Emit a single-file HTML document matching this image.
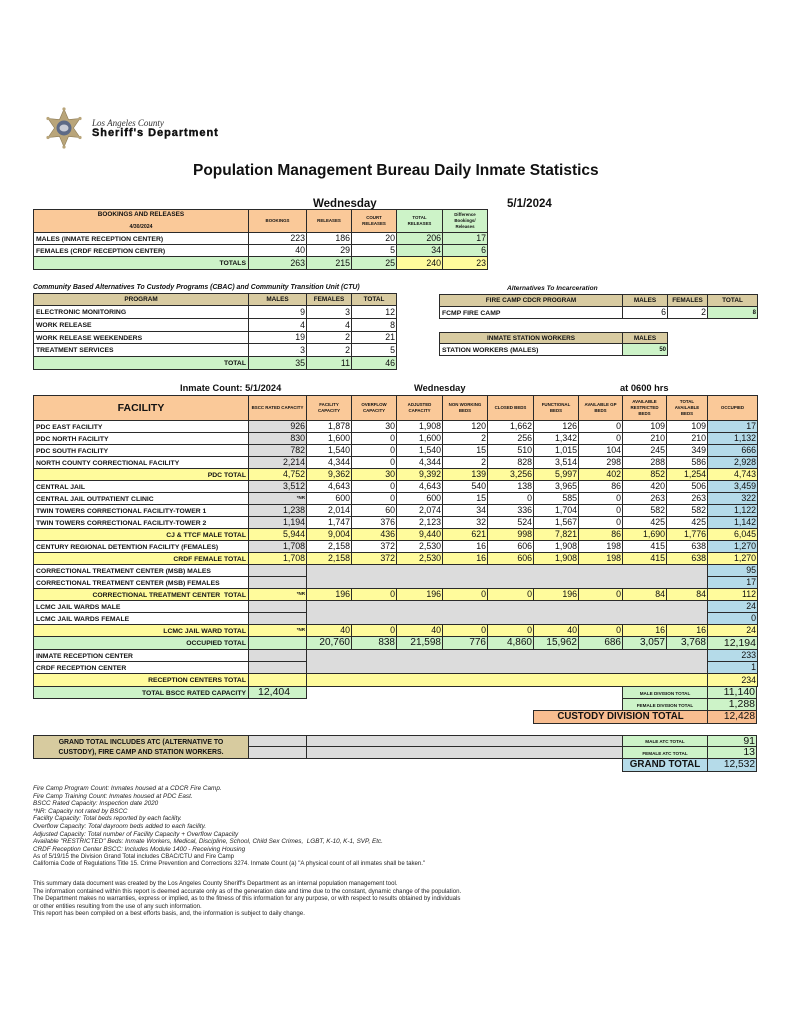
<!DOCTYPE html>
<html><head><meta charset="utf-8"><style>
*{box-sizing:border-box;margin:0;padding:0}
body{width:791px;height:1024px;background:#fff;position:relative;overflow:hidden;font-family:"Liberation Sans",Arial,sans-serif;color:#111}
.a{position:absolute;white-space:nowrap;line-height:1}
table{position:absolute;border-collapse:collapse;table-layout:fixed}
td{border:1px solid #2a2a2a;padding:0 1px;overflow:hidden;white-space:nowrap;line-height:1;font-size:8.8px;text-align:right;vertical-align:middle}
td.l{text-align:left;font-size:6.8px;font-weight:bold;padding-left:2px;padding-top:3px}
td.t{font-size:6.8px;font-weight:bold;padding-right:2px;padding-top:3px}
td.h{text-align:center;font-size:4.4px;font-weight:bold;white-space:normal;line-height:1.3}
td.c{text-align:center;font-size:6.4px;font-weight:bold;padding-top:2px}
.p{background:#fac999}.k{background:#d8cba1}.g{background:#cdf3c8}.y{background:#fffb9c}.s{background:#dcdcdc}.b{background:#b5dbe9}.o{background:#f8bd90}
tr.y td{background:#fffb9c}
tr.gr td{background:#cdf3c8;font-size:10px}
.box{position:absolute;border:1px solid #2a2a2a;display:flex;align-items:center;white-space:nowrap;line-height:1}
.sm{padding-top:3px}
.fn{position:absolute;left:33px;font-size:6.1px;line-height:7.4px;white-space:nowrap;color:#222}
.fn i{font-style:italic;font-size:6.35px}
</style></head><body>

<svg class="a" style="left:40px;top:105px" width="50" height="50" viewBox="40 105 50 50">
<polygon points="64,109 68.5,119.5 80,118.5 73.5,128 80,137.5 68.5,136.5 64,147 59.5,136.5 48,137.5 54.5,128 48,118.5 59.5,119.5" fill="#b9a57a" stroke="#8c7a55" stroke-width="0.6"/>
<circle cx="64" cy="109" r="1.6" fill="#b9a57a"/><circle cx="80" cy="118.5" r="1.6" fill="#b9a57a"/><circle cx="80" cy="137.5" r="1.6" fill="#b9a57a"/><circle cx="64" cy="147" r="1.6" fill="#b9a57a"/><circle cx="48" cy="137.5" r="1.6" fill="#b9a57a"/><circle cx="48" cy="118.5" r="1.6" fill="#b9a57a"/>
<circle cx="64" cy="128" r="7.5" fill="#5d6a86"/><ellipse cx="64" cy="128" rx="4.5" ry="3.5" fill="#c9ccd6"/>
</svg>
<div class="a" style="left:92px;top:119px;font-family:'Liberation Serif',serif;font-style:italic;font-size:9px;color:#333">Los Angeles County</div>
<div class="a" style="left:92px;top:128px;font-size:11px;font-weight:bold;letter-spacing:0.95px;-webkit-text-stroke:0.4px #111">Sheriff's Department</div>

<div class="a" style="left:193px;top:163px;font-size:15.5px;font-weight:bold">Population Management Bureau Daily Inmate Statistics</div>
<div class="a" style="left:313px;top:199px;font-size:11.5px;font-weight:bold">Wednesday</div>
<div class="a" style="left:507px;top:199px;font-size:11.5px;font-weight:bold">5/1/2024</div>

<!-- Bookings -->
<table style="left:33px;top:209px;width:454px">
<colgroup><col style="width:215px"><col style="width:58px"><col style="width:45px"><col style="width:45px"><col style="width:46px"><col style="width:45px"></colgroup>
<tr style="height:23px"><td class="p h"><div style="font-size:6.4px">BOOKINGS AND RELEASES</div><div style="font-size:5.2px;margin-top:5px">4/30/2024</div></td><td class="p h">BOOKINGS</td><td class="p h">RELEASES</td><td class="p h">COURT<br>RELEASES</td><td class="g h">TOTAL<br>RELEASES</td><td class="g h">Difference<br>Bookings/<br>Releases</td></tr>
<tr style="height:12px"><td class="l">MALES (INMATE RECEPTION CENTER)</td><td>223</td><td>186</td><td>20</td><td class="g">206</td><td class="g">17</td></tr>
<tr style="height:12px"><td class="l">FEMALES (CRDF RECEPTION CENTER)</td><td>40</td><td>29</td><td>5</td><td class="g">34</td><td class="g">6</td></tr>
<tr style="height:13px"><td class="t g">TOTALS</td><td class="g">263</td><td class="g">215</td><td class="g">25</td><td class="y">240</td><td class="y">23</td></tr>
</table>

<div class="a" style="left:33px;top:284.5px;font-size:6.9px;font-weight:bold;font-style:italic">Community Based Alternatives To Custody Programs (CBAC) and Community Transition Unit (CTU)</div>
<div class="a" style="left:507px;top:285.5px;font-size:6.6px;font-weight:bold;font-style:italic">Alternatives To Incarceration</div>

<!-- CBAC -->
<table style="left:33px;top:293px;width:363px">
<colgroup><col style="width:215px"><col style="width:58px"><col style="width:45px"><col style="width:45px"></colgroup>
<tr style="height:12px"><td class="k c">PROGRAM</td><td class="k c">MALES</td><td class="k c">FEMALES</td><td class="k c">TOTAL</td></tr>
<tr style="height:13px"><td class="l">ELECTRONIC MONITORING</td><td>9</td><td>3</td><td>12</td></tr>
<tr style="height:13px"><td class="l">WORK RELEASE</td><td>4</td><td>4</td><td>8</td></tr>
<tr style="height:12px"><td class="l">WORK RELEASE WEEKENDERS</td><td>19</td><td>2</td><td>21</td></tr>
<tr style="height:13px"><td class="l">TREATMENT SERVICES</td><td>3</td><td>2</td><td>5</td></tr>
<tr style="height:13px"><td class="t g">TOTAL</td><td class="g">35</td><td class="g">11</td><td class="g">46</td></tr>
</table>

<!-- Fire camp -->
<table style="left:439px;top:294px;width:318px">
<colgroup><col style="width:183px"><col style="width:45px"><col style="width:40px"><col style="width:50px"></colgroup>
<tr style="height:12px"><td class="k c">FIRE CAMP CDCR PROGRAM</td><td class="k c">MALES</td><td class="k c">FEMALES</td><td class="k c">TOTAL</td></tr>
<tr style="height:12px"><td class="l">FCMP FIRE CAMP</td><td>6</td><td>2</td><td class="g" style="font-size:6px;font-weight:bold">8</td></tr>
</table>

<table style="left:439px;top:332px;width:228px">
<colgroup><col style="width:183px"><col style="width:45px"></colgroup>
<tr style="height:11px"><td class="k c">INMATE STATION WORKERS</td><td class="k c">MALES</td></tr>
<tr style="height:12px"><td class="l">STATION WORKERS (MALES)</td><td class="g" style="font-size:6px;font-weight:bold">50</td></tr>
</table>

<div class="a" style="left:180px;top:384px;font-size:9.3px;font-weight:bold">Inmate Count: 5/1/2024</div>
<div class="a" style="left:414px;top:384px;font-size:9.3px;font-weight:bold">Wednesday</div>
<div class="a" style="left:620px;top:384px;font-size:9.3px;font-weight:bold">at 0600 hrs</div>

<!-- Facility -->
<table style="left:33px;top:395px;width:724px">
<colgroup><col style="width:215px"><col style="width:58px"><col style="width:45px"><col style="width:45px"><col style="width:46px"><col style="width:45px"><col style="width:46px"><col style="width:45px"><col style="width:44px"><col style="width:44px"><col style="width:41px"><col style="width:50px"></colgroup>
<tr style="height:25px"><td class="p" style="text-align:center;font-size:10.5px;font-weight:bold">FACILITY</td><td class="p h">BSCC RATED CAPACITY</td><td class="p h">FACILITY<br>CAPACITY</td><td class="p h">OVERFLOW<br>CAPACITY</td><td class="p h">ADJUSTED<br>CAPACITY</td><td class="p h">NON WORKING<br>BEDS</td><td class="p h">CLOSED BEDS</td><td class="p h">FUNCTIONAL<br>BEDS</td><td class="p h">AVAILABLE GP<br>BEDS</td><td class="p h">AVAILABLE<br>RESTRICTED<br>BEDS</td><td class="p h">TOTAL<br>AVAILABLE<br>BEDS</td><td class="p h">OCCUPIED</td></tr>
<tr style="height:12px"><td class="l">PDC EAST FACILITY</td><td class="s">926</td><td>1,878</td><td>30</td><td>1,908</td><td>120</td><td>1,662</td><td>126</td><td>0</td><td>109</td><td>109</td><td class="b">17</td></tr>
<tr style="height:12px"><td class="l">PDC NORTH FACILITY</td><td class="s">830</td><td>1,600</td><td>0</td><td>1,600</td><td>2</td><td>256</td><td>1,342</td><td>0</td><td>210</td><td>210</td><td class="b">1,132</td></tr>
<tr style="height:12px"><td class="l">PDC SOUTH FACILITY</td><td class="s">782</td><td>1,540</td><td>0</td><td>1,540</td><td>15</td><td>510</td><td>1,015</td><td>104</td><td>245</td><td>349</td><td class="b">666</td></tr>
<tr style="height:12px"><td class="l">NORTH COUNTY CORRECTIONAL FACILITY</td><td class="s">2,214</td><td>4,344</td><td>0</td><td>4,344</td><td>2</td><td>828</td><td>3,514</td><td>298</td><td>288</td><td>586</td><td class="b">2,928</td></tr>
<tr class="y" style="height:12px"><td class="t">PDC TOTAL</td><td>4,752</td><td>9,362</td><td>30</td><td>9,392</td><td>139</td><td>3,256</td><td>5,997</td><td>402</td><td>852</td><td>1,254</td><td>4,743</td></tr>
<tr style="height:12px"><td class="l">CENTRAL JAIL</td><td class="s">3,512</td><td>4,643</td><td>0</td><td>4,643</td><td>540</td><td>138</td><td>3,965</td><td>86</td><td>420</td><td>506</td><td class="b">3,459</td></tr>
<tr style="height:12px"><td class="l">CENTRAL JAIL OUTPATIENT CLINIC</td><td class="s" style="font-size:4.5px;font-weight:bold">*NR</td><td>600</td><td>0</td><td>600</td><td>15</td><td>0</td><td>585</td><td>0</td><td>263</td><td>263</td><td class="b">322</td></tr>
<tr style="height:12px"><td class="l">TWIN TOWERS CORRECTIONAL FACILITY-TOWER 1</td><td class="s">1,238</td><td>2,014</td><td>60</td><td>2,074</td><td>34</td><td>336</td><td>1,704</td><td>0</td><td>582</td><td>582</td><td class="b">1,122</td></tr>
<tr style="height:12px"><td class="l">TWIN TOWERS CORRECTIONAL FACILITY-TOWER 2</td><td class="s">1,194</td><td>1,747</td><td>376</td><td>2,123</td><td>32</td><td>524</td><td>1,567</td><td>0</td><td>425</td><td>425</td><td class="b">1,142</td></tr>
<tr class="y" style="height:12px"><td class="t">CJ &amp; TTCF MALE TOTAL</td><td>5,944</td><td>9,004</td><td>436</td><td>9,440</td><td>621</td><td>998</td><td>7,821</td><td>86</td><td>1,690</td><td>1,776</td><td>6,045</td></tr>
<tr style="height:12px"><td class="l">CENTURY REGIONAL DETENTION FACILITY (FEMALES)</td><td class="s">1,708</td><td>2,158</td><td>372</td><td>2,530</td><td>16</td><td>606</td><td>1,908</td><td>198</td><td>415</td><td>638</td><td class="b">1,270</td></tr>
<tr class="y" style="height:12px"><td class="t">CRDF FEMALE TOTAL</td><td>1,708</td><td>2,158</td><td>372</td><td>2,530</td><td>16</td><td>606</td><td>1,908</td><td>198</td><td>415</td><td>638</td><td>1,270</td></tr>
<tr style="height:12px"><td class="l">CORRECTIONAL TREATMENT CENTER (MSB) MALES</td><td class="s"></td><td class="s" colspan="9" rowspan="2"></td><td class="b">95</td></tr>
<tr style="height:12px"><td class="l">CORRECTIONAL TREATMENT CENTER (MSB) FEMALES</td><td class="s"></td><td class="b">17</td></tr>
<tr class="y" style="height:12px"><td class="t">CORRECTIONAL TREATMENT CENTER&nbsp; TOTAL</td><td style="font-size:4.5px;font-weight:bold">*NR</td><td>196</td><td>0</td><td>196</td><td>0</td><td>0</td><td>196</td><td>0</td><td>84</td><td>84</td><td>112</td></tr>
<tr style="height:12px"><td class="l">LCMC JAIL WARDS MALE</td><td class="s"></td><td class="s" colspan="9" rowspan="2"></td><td class="b">24</td></tr>
<tr style="height:12px"><td class="l">LCMC JAIL WARDS FEMALE</td><td class="s"></td><td class="b">0</td></tr>
<tr class="y" style="height:12px"><td class="t">LCMC JAIL WARD TOTAL</td><td style="font-size:4.5px;font-weight:bold">*NR</td><td>40</td><td>0</td><td>40</td><td>0</td><td>0</td><td>40</td><td>0</td><td>16</td><td>16</td><td>24</td></tr>
<tr class="gr" style="height:13px"><td class="t" style="font-size:6.8px">OCCUPIED TOTAL</td><td></td><td>20,760</td><td>838</td><td>21,598</td><td>776</td><td>4,860</td><td>15,962</td><td>686</td><td>3,057</td><td>3,768</td><td style="font-size:10.5px">12,194</td></tr>
<tr style="height:12px"><td class="l">INMATE RECEPTION CENTER</td><td class="s"></td><td class="s" colspan="9" rowspan="2"></td><td class="b">233</td></tr>
<tr style="height:12px"><td class="l">CRDF RECEPTION CENTER</td><td class="s"></td><td class="b">1</td></tr>
<tr class="y" style="height:13px"><td class="t">RECEPTION CENTERS TOTAL</td><td></td><td colspan="9"></td><td>234</td></tr>
</table>

<!-- below facility -->
<div class="box g sm" style="left:33px;top:686px;width:216px;height:13px;justify-content:flex-end;padding-right:2px;font-size:6.8px;font-weight:bold">TOTAL BSCC RATED CAPACITY</div>
<div class="box g" style="left:248px;top:686px;width:59px;height:13px;justify-content:flex-start;padding-left:9px;font-size:10.5px">12,404</div>
<div class="box g sm" style="left:622px;top:686px;width:86px;height:13px;justify-content:center;font-size:4.6px;font-weight:bold">MALE DIVISION TOTAL</div>
<div class="box g" style="left:707px;top:686px;width:50px;height:13px;justify-content:flex-end;padding-right:1px;font-size:10.5px">11,140</div>
<div class="box g sm" style="left:622px;top:698px;width:86px;height:13px;justify-content:center;font-size:4.6px;font-weight:bold">FEMALE DIVISION TOTAL</div>
<div class="box g" style="left:707px;top:698px;width:50px;height:13px;justify-content:flex-end;padding-right:1px;font-size:10.5px">1,288</div>
<div class="box o" style="left:533px;top:710px;width:175px;height:14px;justify-content:center;font-size:9.7px;font-weight:bold">CUSTODY DIVISION TOTAL</div>
<div class="box o" style="left:707px;top:710px;width:50px;height:14px;justify-content:flex-end;padding-right:1px;font-size:10.2px">12,428</div>

<!-- grand total -->
<div class="box" style="left:33px;top:735px;width:216px;height:24px;justify-content:center;text-align:center;font-size:6.9px;font-weight:bold;background:#d7cb9f;line-height:1.4;border-width:1.5px;padding-top:1px">GRAND TOTAL INCLUDES ATC (ALTERNATIVE TO<br>CUSTODY), FIRE CAMP AND STATION WORKERS.</div>
<div class="box s" style="left:248px;top:735px;width:59px;height:12px"></div>
<div class="box s" style="left:248px;top:746px;width:59px;height:13px"></div>
<div class="box s" style="left:306px;top:735px;width:317px;height:12px"></div>
<div class="box s" style="left:306px;top:746px;width:317px;height:13px"></div>
<div class="box g sm" style="left:622px;top:735px;width:86px;height:12px;justify-content:center;font-size:4.6px;font-weight:bold">MALE ATC TOTAL</div>
<div class="box g" style="left:707px;top:735px;width:50px;height:12px;justify-content:flex-end;padding-right:1px;font-size:10.5px">91</div>
<div class="box g sm" style="left:622px;top:746px;width:86px;height:13px;justify-content:center;font-size:4.6px;font-weight:bold">FEMALE ATC TOTAL</div>
<div class="box g" style="left:707px;top:746px;width:50px;height:13px;justify-content:flex-end;padding-right:1px;font-size:10.5px">13</div>
<div class="box b" style="left:622px;top:758px;width:86px;height:14px;justify-content:center;font-size:9.8px;font-weight:bold">GRAND TOTAL</div>
<div class="box b" style="left:707px;top:758px;width:50px;height:14px;justify-content:flex-end;padding-right:1px;font-size:10.2px">12,532</div>

<!-- footnotes -->
<div class="fn" style="top:785.3px"><i>Fire Camp Program Count: Inmates housed at a CDCR Fire Camp.</i></div>
<div class="fn" style="top:792.7px"><i>Fire Camp Training Count: Inmates housed at PDC East.</i></div>
<div class="fn" style="top:800.1px"><i>BSCC Rated Capacity: Inspection date 2020</i></div>
<div class="fn" style="top:807.5px"><i>*NR: Capacity not rated by BSCC</i></div>
<div class="fn" style="top:815px"><i>Facility Capacity: Total beds reported by each facility.</i></div>
<div class="fn" style="top:823px"><i>Overflow Capacity: Total dayroom beds added to each facility.</i></div>
<div class="fn" style="top:830.5px"><i>Adjusted Capacity: Total number of Facility Capacity + Overflow Capacity</i></div>
<div class="fn" style="top:838px"><i>Available "RESTRICTED" Beds: Inmate Workers, Medical, Discipline, School, Child Sex Crimes,&nbsp; LGBT, K-10, K-1, SVP, Etc.</i></div>
<div class="fn" style="top:845.5px"><i>CRDF Reception Center BSCC: Includes Module 1400 - Receiving Housing</i></div>
<div class="fn" style="top:852.5px">As of 5/19/15 the Division Grand Total includes CBAC/CTU and Fire Camp</div>
<div class="fn" style="top:859.5px">California Code of Regulations Title 15. Crime Prevention and Corrections 3274. Inmate Count (a) "A physical count of all inmates shall be taken."</div>

<div class="fn" style="top:880.3px">This summary data document was created by the Los Angeles County Sheriff's Department as an internal population management tool.</div>
<div class="fn" style="top:887.8px">The information contained within this report is deemed accurate only as of the generation date and time due to the constant, dynamic change of the population.</div>
<div class="fn" style="top:895.3px">The Department makes no warranties, express or implied, as to the fitness of this information for any purpose, or with respect to results obtained by individuals</div>
<div class="fn" style="top:902.8px">or other entities resulting from the use of any such information.</div>
<div class="fn" style="top:910.3px">This report has been compiled on a best efforts basis, and, the information is subject to daily change.</div>

</body></html>
